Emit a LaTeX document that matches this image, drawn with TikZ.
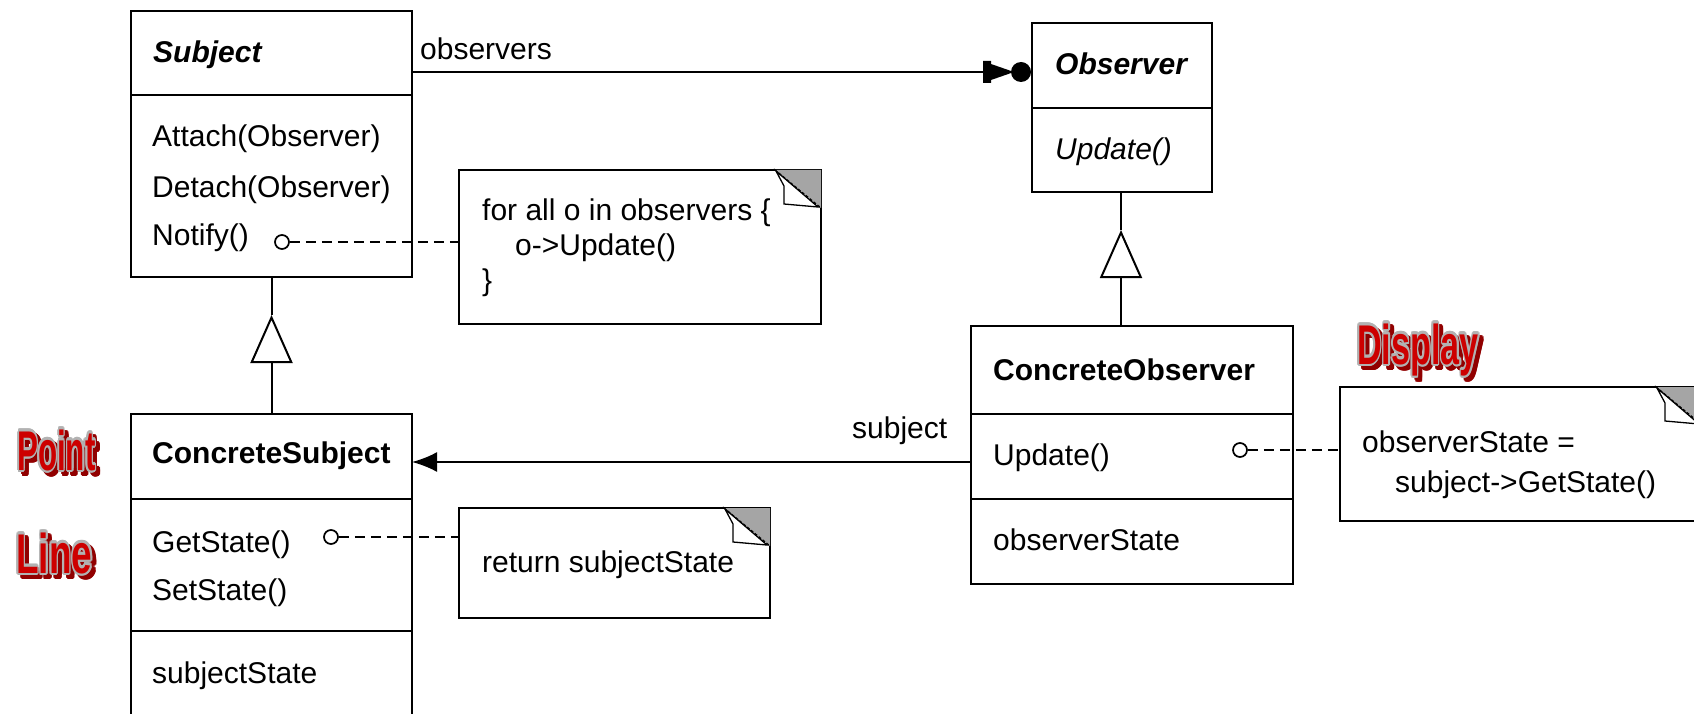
\documentclass[tikz,border=0pt]{standalone}
\usepackage{fontspec}
\setmainfont{Liberation Sans}
\usepackage{graphicx}
\usepackage[copies]{contour}
\usetikzlibrary{arrows.meta,calc}
\contournumber{12}

\definecolor{tagred}{RGB}{205,0,0}
\definecolor{tagshade}{RGB}{145,0,0}
\definecolor{tagedge}{RGB}{178,178,178}
\definecolor{foldgray}{RGB}{165,165,165}

% red caption with a grey rim, and its dark red drop shadow
\newcommand{\tagword}[2]{\contourlength{2.4pt}\scalebox{#1}[1]{\contour{tagedge}{#2}}}
\newcommand{\tagshadow}[2]{\contourlength{2.4pt}\scalebox{#1}[1]{\contour{tagshade}{#2}}}

% folded top-right corner of a note
\newcommand{\dogear}[1]{%
  \fill[foldgray] ($(#1.north east)+(-46,0)$) -- (#1.north east) -- ($(#1.north east)+(0,38)$) -- cycle;
  \draw[line width=1.3pt, fill=white] ($(#1.north east)+(-45,1)$) -- ($(#1.north east)+(-37,16)$)
     -- ($(#1.north east)+(-37,34)$) -- ($(#1.north east)+(-3,37)$) -- cycle;
  \draw[line width=1.3pt, dash pattern=on 3pt off 2pt] ($(#1.north east)+(-46,0)$) -- ($(#1.north east)+(0,38)$);
}

\begin{document}
\begin{tikzpicture}[x=1pt,y=-1pt,
  umlbox/.style={draw, line width=2.4pt, anchor=north west, inner sep=0pt, outer sep=0pt},
  notebox/.style={draw, line width=2.2pt, fill=white, anchor=north west, inner sep=0pt, outer sep=0pt},
  txt/.style={anchor=base west, inner sep=0pt, font=\fontsize{30}{36}\selectfont},
  lollipop/.style={circle, draw, line width=1.7pt, fill=white, minimum size=14pt, inner sep=0pt},
  notelink/.style={line width=1.9pt, dash pattern=on 10pt off 6pt},
  link/.style={line width=2pt},
  inherit/.style={line width=2pt, -{Triangle[open, length=48pt, width=42pt, line width=2pt]}},
  tag/.style={anchor=base west, inner sep=0pt, font=\fontsize{56}{60}\selectfont\bfseries},
  divider/.style={line width=2.2pt},
]
\useasboundingbox (0,0) rectangle (1694,714);
\clip (0,0) rectangle (1694,714);
\fill[white] (0,0) rectangle (1694,714);

% ---- classes ----
\node[umlbox, minimum width=281pt, minimum height=266pt] (subject) at (131,11) {};
\draw[divider] ($(subject.north west)+(0,84)$) -- ($(subject.north east)+(0,84)$);

\node[umlbox, minimum width=180pt, minimum height=169pt] (observer) at (1032,23) {};
\draw[divider] ($(observer.north west)+(0,85)$) -- ($(observer.north east)+(0,85)$);

\node[umlbox, minimum width=322pt, minimum height=258pt] (cobs) at (971,326) {};
\draw[divider] ($(cobs.north west)+(0,88)$) -- ($(cobs.north east)+(0,88)$);
\draw[divider] ($(cobs.north west)+(0,173)$) -- ($(cobs.north east)+(0,173)$);

\node[umlbox, minimum width=281pt, minimum height=320pt] (csub) at (131,414) {};
\draw[divider] ($(csub.north west)+(0,85)$) -- ($(csub.north east)+(0,85)$);
\draw[divider] ($(csub.north west)+(0,217)$) -- ($(csub.north east)+(0,217)$);

% ---- class texts ----
\node[txt] (subjName) at (153,63) {\bfseries\itshape Subject};
\node[txt] (subjAttach) at (152,147) {Attach(Observer)};
\node[txt] (subjDetach) at (152,197) {Detach(Observer)};
\node[txt] (subjNotify) at (152,245) {Notify()};

\node[txt] (obsName) at (1055,75) {\bfseries\itshape Observer};
\node[txt] (obsUpdate) at (1055,160) {\itshape Update()};

\node[txt] (cobsName) at (993,380) {\bfseries ConcreteObserver};
\node[txt] (cobsUpdate) at (993,465) {Update()};
\node[txt] (cobsState) at (993,550) {observerState};

\node[txt] (csubName) at (152,463) {\bfseries ConcreteSubject};
\node[txt] (csubGet) at (152,552) {GetState()};
\node[txt] (csubSet) at (152,600) {SetState()};
\node[txt] (csubState) at (152,683) {subjectState};

% ---- notes ----
\node[notebox, minimum width=362pt, minimum height=154pt] (note1) at (459,170) {};
\node[notebox, minimum width=311pt, minimum height=110pt] (note2) at (459,508) {};
\node[notebox, minimum width=362pt, minimum height=134pt] (note3) at (1340,387) {};
\dogear{note1}
\dogear{note2}
\dogear{note3}

\node[txt] (n1a) at (482,220) {for all o in observers \{};
\node[txt] (n1b) at (515,255) {o->Update()};
\node[txt] (n1c) at (482,290) {\}};
\node[txt] (n2a) at (482,572) {return subjectState};
\node[txt] (n3a) at (1362,452) {observerState =};
\node[txt] (n3b) at (1395,492) {subject->GetState()};

% ---- note links ----
\node[lollipop] (pinNotify) at (282,242) {};
\node[lollipop] (pinGet) at (331,537) {};
\node[lollipop] (pinUpd) at (1240,450) {};
\draw[notelink] (pinNotify.east) -- (note1.west |- pinNotify);
\draw[notelink] (pinGet.east) -- (note2.west |- pinGet);
\draw[notelink] (pinUpd.east) -- (note3.west |- pinUpd);

% ---- observers association (arrow plus many-dot) ----
\coordinate (obsIn) at (1032,72);
\draw[link] (subject.east |- obsIn) -- (obsIn);
\fill (obsIn) ++(-49,-11) -- ++(8,0) -- ++(0,3) -- ++(23,8) -- ++(-23,8) -- ++(0,3) -- ++(-8,0) -- cycle;
\fill (obsIn) ++(-11,0) circle (10);
\node[txt] (lblObservers) at (420,60) {observers};

% ---- subject association ----
\coordinate (csIn) at (412,462);
\draw[link, -{Latex[length=25pt, width=20pt]}] (cobs.west |- csIn) -- (csIn);
\node[txt] (lblSubject) at (852,438) {subject};

% ---- generalisations ----
\coordinate (genS) at ($(subject.south)+(0,38)$);
\draw[inherit] (csub.north -| genS) -- (genS);
\draw[link] (genS) -- (subject.south);

\coordinate (genO) at ($(observer.south)+(-1,38)$);
\draw[inherit] (cobs.north -| genO) -- (genO);
\draw[link] (genO) -- (observer.south -| genO);

% ---- red captions ----
\node[tag, text=tagshade] (pointShade) at (21,474) {\tagshadow{0.56}{Point}};
\node[tag, text=tagred] (pointTag) at (17,470) {\tagword{0.56}{Point}};
\node[tag, text=tagshade] (lineShade) at (20,577) {\tagshadow{0.66}{Line}};
\node[tag, text=tagred] (lineTag) at (16,573) {\tagword{0.66}{Line}};
\node[tag, text=tagshade] (displayShade) at (1361,368) {\tagshadow{0.61}{Display}};
\node[tag, text=tagred] (displayTag) at (1357,364) {\tagword{0.61}{Display}};
\end{tikzpicture}
\end{document}
